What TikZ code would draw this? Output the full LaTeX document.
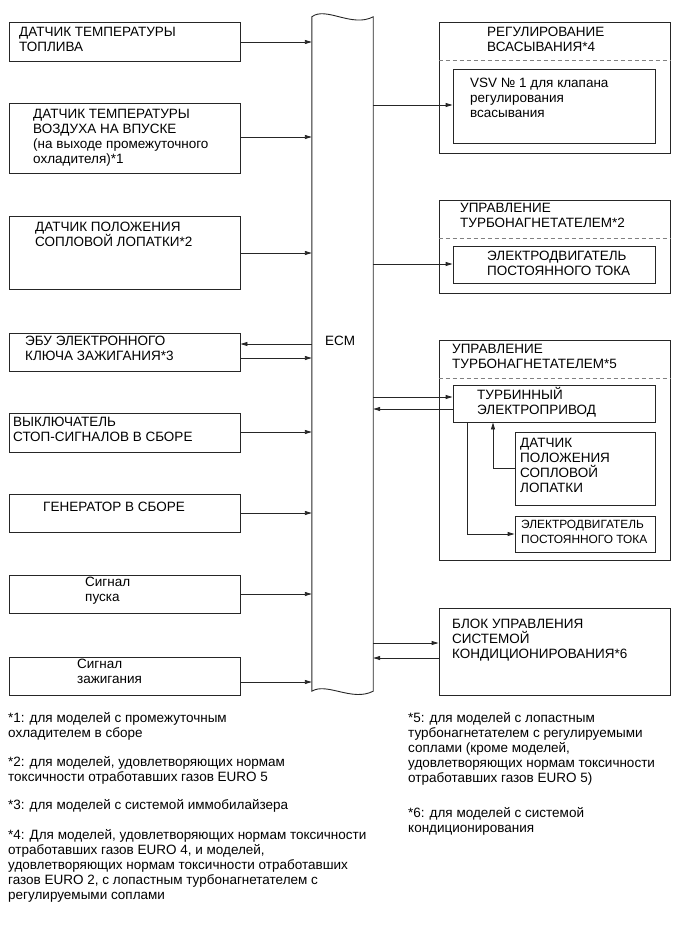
\documentclass[tikz,border=0pt]{standalone}
\usepackage{fontspec}
\setmainfont{Liberation Sans}
\usetikzlibrary{arrows.meta,fit,calc}
\newcommand\fl{\rule{0pt}{12.5pt}}
\newcommand\fs{\fontsize{13.5}{15}\selectfont}
\newcommand\fsm{\fontsize{11.9}{15.3}\selectfont}
\tikzset{
  box/.style={draw=black!85, line width=0.9pt, inner sep=0pt},
  hide/.style={inner sep=0pt},
  txt/.style={anchor=north west, inner sep=0pt, align=left, font=\fs, text=black},
  arr/.style={draw=black!85, line width=0.9pt, -{Triangle[length=7pt,width=4pt]}},
  ln/.style={draw=black!85, line width=0.9pt},
  sep/.style={draw=black!50, line width=0.8pt, dash pattern=on 4pt off 3pt},
}
\begin{document}
\begin{tikzpicture}[x=1pt,y=-1pt]
\useasboundingbox (0,0) rectangle (689,951);
% left boxes
\node[box, fit={(9,22) (240,61)}] (b1) {};
\node[box, fit={(9,103) (240,173)}] (b2) {};
\node[box, fit={(9,216) (240,289)}] (b3) {};
\node[box, fit={(9,333) (240,371)}] (b4) {};
\node[box, fit={(9,413) (240,452)}] (b5) {};
\node[box, fit={(9,494) (240,532)}] (b6) {};
\node[box, fit={(9,575) (240,613)}] (b7) {};
\node[box, fit={(9,657) (240,695)}] (b8) {};
% ECM strip
\node[hide, fit={(312,17) (373,691)}] (ecm) {};
\draw[ln] (ecm.north west) .. controls (326,6) and (352,28) .. (ecm.north east)
  -- (ecm.south east) .. controls (352,702) and (327,682) .. (ecm.south west) -- cycle;
\node[txt] (ecmt) at (325,332.5) {\fl ECM};
% right boxes
\node[box, fit={(439,22) (670,153)}] (r1) {};
\node[box, fit={(453,69) (655,143)}] (r1i) {};
\node[box, fit={(439,200) (670,293)}] (r2) {};
\node[box, fit={(453,246) (655,283)}] (r2i) {};
\node[box, fit={(439,340) (670,560)}] (r3) {};
\node[box, fit={(453,385) (655,422)}] (r3t) {};
\node[box, fit={(515,432) (655,505)}] (r3s) {};
\node[box, fit={(515,516) (655,552)}] (r3m) {};
\node[box, fit={(439,608) (670,695)}] (r4) {};
% dashed separators
\coordinate (s1) at (0,60);
\coordinate (s2) at (0,238);
\coordinate (s3) at (0,378);
\draw[sep] (r1.west |- s1) -- (r1.east |- s1);
\draw[sep] (r2.west |- s2) -- (r2.east |- s2);
\draw[sep] (r3.west |- s3) -- (r3.east |- s3);
% texts left
\node[txt] (t1) at (19,24.2) {\fl ДАТЧИК ТЕМПЕРАТУРЫ\\ТОПЛИВА};
\node[txt] (t2) at (33,106) {\fl ДАТЧИК ТЕМПЕРАТУРЫ\\ВОЗДУХА НА ВПУСКЕ\\(на выходе промежуточного\\охладителя)*1};
\node[txt] (t3) at (35,218.5) {\fl ДАТЧИК ПОЛОЖЕНИЯ\\СОПЛОВОЙ ЛОПАТКИ*2};
\node[txt] (t4) at (25,332.5) {\fl ЭБУ ЭЛЕКТРОННОГО\\КЛЮЧА ЗАЖИГАНИЯ*3};
\node[txt] (t5) at (13,414.2) {\fl ВЫКЛЮЧАТЕЛЬ\\СТОП-СИГНАЛОВ В СБОРЕ};
\node[txt] (t6) at (43,498.5) {\fl ГЕНЕРАТОР В СБОРЕ};
\node[txt] (t7) at (85,574.2) {\fl Сигнал\\пуска};
\node[txt] (t8) at (77,656) {\fl Сигнал\\зажигания};
% texts right
\node[txt] (u1) at (487,24.2) {\fl РЕГУЛИРОВАНИЕ\\ВСАСЫВАНИЯ*4};
\node[txt] (u1i) at (470,75) {\fl VSV № 1 для клапана\\регулирования\\всасывания};
\node[txt] (u2) at (460,200) {\fl УПРАВЛЕНИЕ\\ТУРБОНАГНЕТАТЕЛЕМ*2};
\node[txt] (u2i) at (487,247.5) {\fl ЭЛЕКТРОДВИГАТЕЛЬ\\ПОСТОЯННОГО ТОКА};
\node[txt] (u3) at (452,340.3) {\fl УПРАВЛЕНИЕ\\ТУРБОНАГНЕТАТЕЛЕМ*5};
\node[txt] (u3t) at (477,387) {\fl ТУРБИННЫЙ\\ЭЛЕКТРОПРИВОД};
\node[txt] (u3s) at (520,434.3) {\fl ДАТЧИК\\ПОЛОЖЕНИЯ\\СОПЛОВОЙ\\ЛОПАТКИ};
\node[txt, font=\fsm] (u3m) at (521,515.5) {\fl ЭЛЕКТРОДВИГАТЕЛЬ\\ПОСТОЯННОГО ТОКА};
\node[txt] (u4) at (452,615.3) {\fl БЛОК УПРАВЛЕНИЯ\\СИСТЕМОЙ\\КОНДИЦИОНИРОВАНИЯ*6};
% footnotes
\node[txt] (f1) at (8,710) {\fl *1: для моделей с промежуточным\\охладителем в сборе};
\node[txt] (f2) at (8,753.5) {\fl *2: для моделей, удовлетворяющих нормам\\токсичности отработавших газов EURO 5};
\node[txt] (f3) at (8,797) {\fl *3: для моделей с системой иммобилайзера};
\node[txt] (f4) at (8,827) {\fl *4: Для моделей, удовлетворяющих нормам токсичности\\отработавших газов EURO 4, и моделей,\\удовлетворяющих нормам токсичности отработавших\\газов EURO 2, с лопастным турбонагнетателем с\\регулируемыми соплами};
\node[txt] (f5) at (408,710) {\fl *5: для моделей с лопастным\\турбонагнетателем с регулируемыми\\соплами (кроме моделей,\\удовлетворяющих нормам токсичности\\отработавших газов EURO 5)};
\node[txt] (f6) at (408,804.3) {\fl *6: для моделей с системой\\кондиционирования};
% connector levels
\coordinate (y1) at (0,42);
\coordinate (y2) at (0,137);
\coordinate (y3) at (0,253);
\coordinate (y4a) at (0,344);
\coordinate (y4b) at (0,358);
\coordinate (y5) at (0,432);
\coordinate (y6) at (0,513);
\coordinate (y7) at (0,594);
\coordinate (y8) at (0,682);
\coordinate (z1) at (0,105);
\coordinate (z2) at (0,264);
\coordinate (z3a) at (0,397);
\coordinate (z3b) at (0,409);
\coordinate (z4a) at (0,643);
\coordinate (z4b) at (0,658);
\draw[arr] (b1.east |- y1) -- (ecm.west |- y1);
\draw[arr] (b2.east |- y2) -- (ecm.west |- y2);
\draw[arr] (b3.east |- y3) -- (ecm.west |- y3);
\draw[arr] (ecm.west |- y4a) -- (b4.east |- y4a);
\draw[arr] (b4.east |- y4b) -- (ecm.west |- y4b);
\draw[arr] (b5.east |- y5) -- (ecm.west |- y5);
\draw[arr] (b6.east |- y6) -- (ecm.west |- y6);
\draw[arr] (b7.east |- y7) -- (ecm.west |- y7);
\draw[arr] (b8.east |- y8) -- (ecm.west |- y8);
\draw[arr] (ecm.east |- z1) -- (r1i.west |- z1);
\draw[arr] (ecm.east |- z2) -- (r2i.west |- z2);
\draw[arr] (ecm.east |- z3a) -- (r3t.west |- z3a);
\draw[arr] (r3t.west |- z3b) -- (ecm.east |- z3b);
\draw[arr] (ecm.east |- z4a) -- (r4.west |- z4a);
\draw[arr] (r4.west |- z4b) -- (ecm.east |- z4b);
% internal connectors
\coordinate (k1) at (493,468);
\coordinate (k2) at (467,534);
\draw[arr] (r3s.west |- k1) -- (k1) -- (k1 |- r3t.south);
\draw[arr] (k2 |- r3t.south) -- (k2) -- (r3m.west |- k2);
\end{tikzpicture}
\end{document}
